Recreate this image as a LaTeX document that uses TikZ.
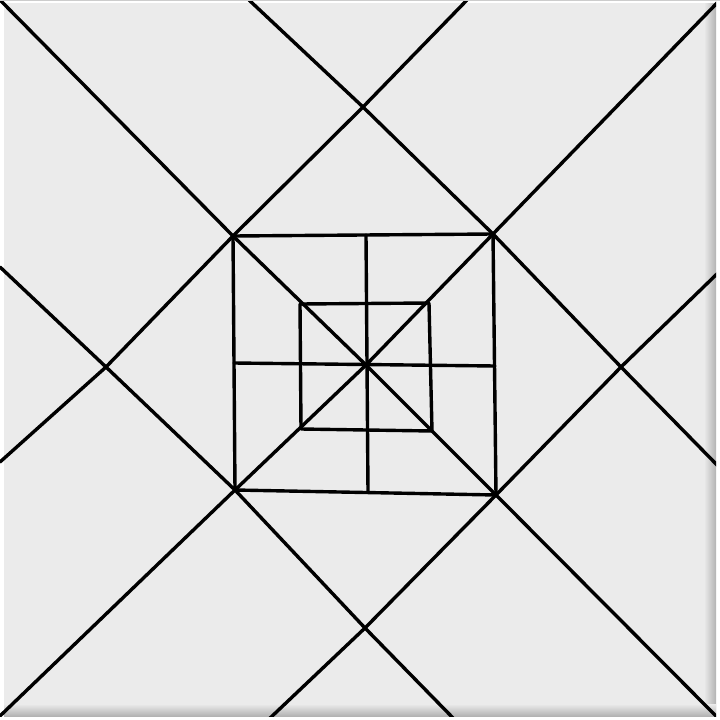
\documentclass[tikz,border=0pt]{standalone}
\begin{document}
\begin{tikzpicture}[x=1pt,y=-1pt,
  ink/.style={line width=3.4pt, line cap=round, line join=round, draw=black}]
\useasboundingbox (0,0) rectangle (720,720);
% canvas
\fill[white] (0,0) rectangle (720,720);
\fill[black!8] (4,3) rectangle (712,712);
\shade[left color=black!8, right color=black!30] (704,3) rectangle (716,712);
\shade[top color=black!8, bottom color=black!30] (4,704) rectangle (716,716);
\fill[black!20] (0,0) rectangle (720,1);
\begin{scope}
\clip (0,1) rectangle (716,716);
% points
\coordinate (c)  at (366,365);
\coordinate (o1) at (233,236);
\coordinate (o2) at (493,234);
\coordinate (o3) at (496,495);
\coordinate (o4) at (235,490);
\coordinate (i1) at (300,304);
\coordinate (i2) at (429,303);
\coordinate (i3) at (432,431);
\coordinate (i4) at (301,429);
\coordinate (mt) at (366,235);
\coordinate (mb) at (368,492);
\coordinate (ml) at (234,363);
\coordinate (mr) at (495,366);
\coordinate (dt) at (363,107);
\coordinate (dr) at (621,367);
\coordinate (db) at (365,628);
\coordinate (dl) at (106,367);
\coordinate (e1) at (0,0);
\coordinate (e2) at (718,2);
\coordinate (e3) at (716,716);
\coordinate (e4) at (0,716);
\coordinate (t1) at (249,0);
\coordinate (t2) at (467,0);
\coordinate (r1) at (720,271);
\coordinate (r2) at (720,468);
\coordinate (b1) at (268,720);
\coordinate (b2) at (455,720);
\coordinate (l1) at (0,267);
\coordinate (l2) at (0,462);
% squares
\draw[ink] (o1) -- (o2) -- (o3) -- (o4) -- cycle;
\draw[ink] (i1) -- (i2) -- (i3) -- (i4) -- cycle;
\draw[ink] (mt) -- (mb);
\draw[ink] (ml) -- (mr);
% diagonals
\draw[ink] (e1) -- (o1) -- (c) -- (o3) -- (e3);
\draw[ink] (e2) -- (o2) -- (c) -- (o4) -- (e4);
% diamond lines
\draw[ink] (t1) -- (dt) -- (o2) -- (dr) -- (r2);
\draw[ink] (t2) -- (dt) -- (o1) -- (dl) -- (l2);
\draw[ink] (l1) -- (dl) -- (o4) -- (db) -- (b2);
\draw[ink] (r1) -- (dr) -- (o3) -- (db) -- (b1);
\end{scope}
\end{tikzpicture}
\end{document}
